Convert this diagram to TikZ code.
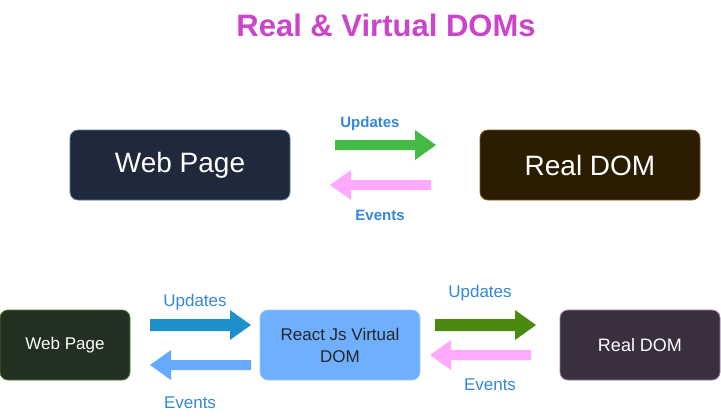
\documentclass[tikz,border=0pt]{standalone}
\usepackage{fontspec}
\setmainfont{Liberation Sans}
\definecolor{titlec}{HTML}{CC44CC}
\definecolor{labc}{HTML}{3388DD}
\definecolor{wpfill}{HTML}{1E293B}
\definecolor{wpdraw}{HTML}{5A7AA5}
\definecolor{rdfill}{HTML}{2B1D02}
\definecolor{rddraw}{HTML}{7A5A10}
\definecolor{gwfill}{HTML}{213021}
\definecolor{gwdraw}{HTML}{4E7A2E}
\definecolor{vfill}{HTML}{6EB0FF}
\definecolor{vdraw}{HTML}{A0C8FF}
\definecolor{pfill}{HTML}{3A2F3F}
\definecolor{pdraw}{HTML}{9673A6}
\definecolor{agreen}{HTML}{44BB44}
\definecolor{apink}{HTML}{FFAAFF}
\definecolor{ablue}{HTML}{1E90CC}
\definecolor{alblue}{HTML}{66AAFF}
\definecolor{aolive}{HTML}{4A8A10}
\begin{document}
\begin{tikzpicture}[x=1pt,y=-1pt,
  box/.style={rounded corners=8pt, line width=0.8pt, align=center, inner sep=0pt},
  bigbox/.style={box, minimum width=220pt, minimum height=70pt, text=white, font=\fontsize{28}{34}\selectfont},
  smallbox/.style={box, minimum width=130pt, minimum height=70pt, font=\fontsize{17}{22}\selectfont},
  toplab/.style={text=labc, font=\bfseries\fontsize{15}{18}\selectfont},
  botlab/.style={text=labc, font=\fontsize{17}{20}\selectfont}]
\useasboundingbox (0,0) rectangle (721,418);
\node[text=titlec, font=\bfseries\fontsize{31}{36}\selectfont] (title) at (386,25) {Real \& Virtual DOMs};
% top row
\node[bigbox, fill=wpfill, draw=wpdraw] (wp1) at (180,165) {Web Page};
\node[bigbox, fill=rdfill, draw=rddraw] (rd1) at (590,165) {Real DOM};
\fill[agreen] (335,140) -- (415,140) -- (415,130) -- (436,145) -- (415,160) -- (415,150) -- (335,150) -- cycle;
\fill[apink] (431,180) -- (351,180) -- (351,170) -- (330,185) -- (351,200) -- (351,190) -- (431,190) -- cycle;
\node[toplab] (u1) at (370,124) {Updates};
\node[toplab] (e1) at (380,215) {Events};
% bottom row
\node[smallbox, fill=gwfill, draw=gwdraw, text=white] (wp2) at (65,345) {Web Page};
\node[box, minimum width=160pt, minimum height=70pt, font=\fontsize{17}{22}\selectfont, fill=vfill, draw=vdraw, text=black!85] (vd) at (340,345) {React Js Virtual\\DOM};
\node[box, minimum width=160pt, minimum height=70pt, font=\fontsize{18}{22}\selectfont, fill=pfill, draw=pdraw, text=white] (rd2) at (640,345) {Real DOM};
\fill[ablue] (150,319) -- (230,319) -- (230,310) -- (251,325) -- (230,340) -- (230,331) -- (150,331) -- cycle;
\fill[alblue] (251,360) -- (171,360) -- (171,350) -- (150,365) -- (171,380) -- (171,370) -- (251,370) -- cycle;
\fill[aolive] (435,319) -- (515,319) -- (515,310) -- (536,325) -- (515,340) -- (515,331) -- (435,331) -- cycle;
\fill[apink] (531,350) -- (451,350) -- (451,340) -- (430,355) -- (451,370) -- (451,360) -- (531,360) -- cycle;
\node[botlab] (u2) at (195,302) {Updates};
\node[botlab] (e2) at (190,403) {Events};
\node[botlab] (u3) at (480,293) {Updates};
\node[botlab] (e3) at (490,385) {Events};
\end{tikzpicture}
\end{document}
